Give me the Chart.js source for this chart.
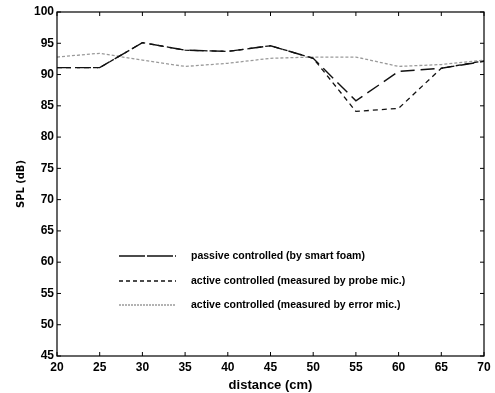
<!DOCTYPE html>
<html>
<head>
<meta charset="utf-8">
<script src="https://cdn.jsdelivr.net/npm/chart.js@4/dist/chart.umd.min.js"></script>
<style>
  html, body { margin: 0; padding: 0; background: #fff; }
  #wrap { width: 495px; height: 393px; }
</style>
</head>
<body>
<div id="wrap"><canvas id="spl-chart"></canvas></div>
<script>
// distance along the duct (cm)
const distance = [20, 25, 30, 35, 40, 45, 50, 55, 60, 65, 70];
// SPL (dB)
const passiveSPL = [91.1, 91.1, 95.1, 93.9, 93.7, 94.6, 92.6, 85.8, 90.5, 91.0, 92.1];
const probeSPL   = [91.1, 91.1, 95.1, 93.9, 93.7, 94.6, 92.6, 84.1, 84.6, 91.0, 92.2];
const errorSPL   = [92.8, 93.4, 92.3, 91.3, 91.8, 92.6, 92.8, 92.8, 91.3, 91.6, 92.3];
const labels = [
    'passive controlled (by smart foam)',
    'active controlled (measured by probe mic.)',
    'active controlled (measured by error mic.)'
];
const xTicks = [20, 25, 30, 35, 40, 45, 50, 55, 60, 65, 70];
const yTicks = [45, 50, 55, 60, 65, 70, 75, 80, 85, 90, 95, 100];

const FONT = 'Liberation Sans, Arial, sans-serif';
const NARROW = 'Liberation Sans Narrow, DejaVu Sans Condensed, Arial Narrow, sans-serif';

function pts(ys) {
    return distance.map((x, i) => ({ x: x, y: ys[i] }));
}

// box with inward ticks, matlab style
const boxPlugin = {
    id: 'box',
    afterDraw(chart) {
        const { ctx, chartArea: a, scales } = chart;
        ctx.save();
        ctx.strokeStyle = '#000';
        ctx.lineWidth = 1.2;
        ctx.strokeRect(a.left, a.top, a.right - a.left, a.bottom - a.top);
        ctx.lineWidth = 1;
        ctx.beginPath();
        xTicks.forEach(v => {
            const x = scales.x.getPixelForValue(v);
            ctx.moveTo(x, a.bottom); ctx.lineTo(x, a.bottom - 4);
            ctx.moveTo(x, a.top); ctx.lineTo(x, a.top + 4);
        });
        yTicks.forEach(v => {
            const y = scales.y.getPixelForValue(v);
            ctx.moveTo(a.left, y); ctx.lineTo(a.left + 4, y);
            ctx.moveTo(a.right, y); ctx.lineTo(a.right - 4, y);
        });
        ctx.stroke();
        ctx.restore();
    }
};

// legend sits inside the axes
const legendPlugin = {
    id: 'innerLegend',
    afterDraw(chart) {
        const ctx = chart.ctx;
        const x0 = 119, x1 = 176, tx = 191;
        const rows = [256, 281, 305];
        ctx.save();
        chart.data.datasets.forEach((ds, i) => {
            const y = rows[i];
            ctx.strokeStyle = ds.borderColor;
            ctx.lineWidth = ds.borderWidth;
            ctx.setLineDash(ds.legendDash || ds.borderDash);
            ctx.beginPath();
            ctx.moveTo(x0, y); ctx.lineTo(x1, y);
            ctx.stroke();
            ctx.setLineDash([]);
            ctx.fillStyle = '#000';
            ctx.font = 'bold 10.5px ' + FONT;
            ctx.textBaseline = 'middle';
            ctx.fillText(ds.label, tx, y);
        });
        ctx.restore();
    }
};

const ctx = document.getElementById('spl-chart');
new Chart(ctx, {
    type: 'line',
    data: {
        datasets: [
            { label: labels[0], data: pts(passiveSPL), borderColor: '#111', borderWidth: 1.4, borderDash: [14, 6], legendDash: [26, 2] },
            { label: labels[1], data: pts(probeSPL), borderColor: '#111', borderWidth: 1.3, borderDash: [5, 4], legendDash: [4, 3] },
            { label: labels[2], data: pts(errorSPL), borderColor: '#9a9a9a', borderWidth: 1.3, borderDash: [3, 2], legendDash: [2, 1] }
        ]
    },
    options: {
        responsive: true,
        maintainAspectRatio: false,
        animation: false,
        elements: { point: { radius: 0 }, line: { tension: 0 } },
        layout: { padding: { left: 0, right: 11, top: 12, bottom: 0 } },
        plugins: { legend: { display: false }, tooltip: { enabled: false } },
        scales: {
            x: {
                type: 'linear', min: 20, max: 70,
                afterBuildTicks: s => { s.ticks = xTicks.map(v => ({ value: v })); },
                afterFit: s => { s.height = 37; },
                grid: { display: false, drawTicks: false },
                border: { display: false },
                ticks: { color: '#000', font: { family: FONT, size: 12, weight: 'bold' }, padding: 4, maxRotation: 0 },
                title: { display: true, text: 'distance (cm)', color: '#000', font: { family: FONT, size: 13, weight: 'bold' }, padding: 0 }
            },
            y: {
                min: 45, max: 100,
                afterBuildTicks: s => { s.ticks = yTicks.map(v => ({ value: v })); },
                afterFit: s => { s.width = 57; },
                grid: { display: false, drawTicks: false },
                border: { display: false },
                ticks: { color: '#000', font: { family: FONT, size: 12, weight: 'bold' }, padding: 3 },
                title: { display: true, text: 'SPL (dB)', color: '#000', font: { family: NARROW, size: 11, weight: 'bold' }, padding: { top: 15, bottom: 0 } }
            }
        }
    },
    plugins: [boxPlugin, legendPlugin]
});
</script>
</body>
</html>
